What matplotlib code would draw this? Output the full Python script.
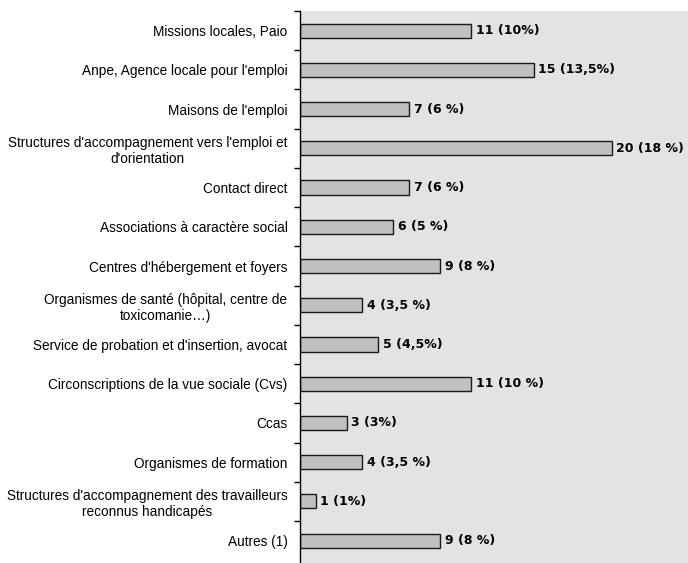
import matplotlib.pyplot as plt
import numpy as np

categories = [
    "Missions locales, Paio",
    "Anpe, Agence locale pour l'emploi",
    "Maisons de l'emploi",
    "Structures d'accompagnement vers l'emploi et\nd'orientation",
    "Contact direct",
    "Associations à caractère social",
    "Centres d'hébergement et foyers",
    "Organismes de santé (hôpital, centre de\ntoxicomanie…)",
    "Service de probation et d'insertion, avocat",
    "Circonscriptions de la vue sociale (Cvs)",
    "Ccas",
    "Organismes de formation",
    "Structures d'accompagnement des travailleurs\nreconnus handicapés",
    "Autres (1)",
]
values = [11, 15, 7, 20, 7, 6, 9, 4, 5, 11, 3, 4, 1, 9]
value_labels = [
    "11 (10%)", "15 (13,5%)", "7 (6 %)", "20 (18 %)", "7 (6 %)",
    "6 (5 %)", "9 (8 %)", "4 (3,5 %)", "5 (4,5%)", "11 (10 %)",
    "3 (3%)", "4 (3,5 %)", "1 (1%)", "9 (8 %)",
]

plt.rcParams['font.family'] = ['Liberation Sans', 'DejaVu Sans']

fig = plt.figure(figsize=(6.88, 5.63), dpi=100)
ax = fig.add_axes([300 / 688, 0.0, 388 / 688, 1 - 11 / 563])
ax.set_facecolor('#e3e3e3')

n = len(categories)
y = np.arange(n)
bars = ax.barh(y, values, height=0.36, color='#c0c0c0', edgecolor='#1a1a1a', linewidth=1)

# valeurs en gras à droite des barres
for bar, lab in zip(bars, value_labels):
    ax.text(bar.get_width() + 0.3, bar.get_y() + bar.get_height() / 2, lab,
            ha='left', va='center', fontsize=9, fontweight='bold',
            family=['DejaVu Sans'])

ax.set_xlim(0, 24.9)
ax.set_ylim(n - 0.5 + 0.07, -0.5)
ax.set_xticks([])
ax.set_yticks(y)
ax.set_yticklabels(categories, fontsize=9.8)
for t in ax.get_yticklabels():
    t.set_multialignment('center')
ax.tick_params(axis='y', which='major', length=0, pad=9)
ax.set_yticks(np.arange(n) - 0.5, minor=True)
ax.tick_params(axis='y', which='minor', length=4, width=1, direction='out')

for s in ['top', 'right', 'bottom']:
    ax.spines[s].set_visible(False)
ax.spines['left'].set_linewidth(1)

fig.savefig('out.png', dpi=100)
